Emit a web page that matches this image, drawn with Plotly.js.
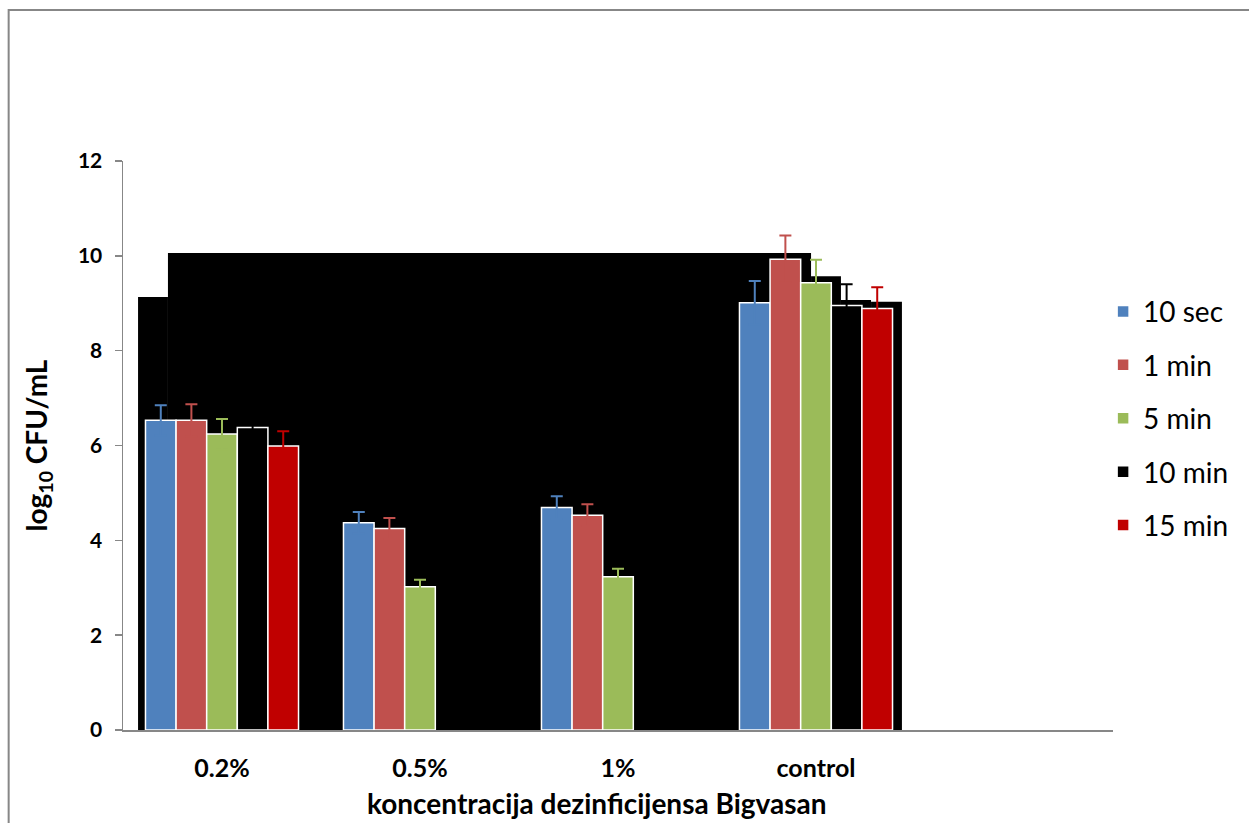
<!DOCTYPE html>
<html>
<head>
<meta charset="utf-8">
<script src="https://cdn.plot.ly/plotly-3.0.1.min.js"></script>
<style>html,body{margin:0;padding:0;background:#fff;}#chart{width:1249px;height:823px;}</style>
</head>
<body>
<div id="chart"></div>
<script>
// ---- data ----
const categories = ["0.2%", "0.5%", "1%", "control"];
const seriesNames = ["10 sec", "1 min", "5 min", "10 min", "15 min"];
const sec10 = [6.53, 4.37, 4.69, 9.01];
const min1 = [6.53, 4.25, 4.53, 9.93];
const min5 = [6.24, 3.02, 3.23, 9.43];
const min10 = [6.38, null, null, 8.95];
const min15 = [5.99, null, null, 8.89];
const err10sec = [0.32, 0.23, 0.24, 0.46];
const err1min = [0.34, 0.22, 0.23, 0.50];
const err5min = [0.32, 0.15, 0.17, 0.49];
const err10min = [0.30, 0, 0, 0.45];
const err15min = [0.31, 0, 0, 0.45];
const yTicks = [0, 2, 4, 6, 8, 10, 12];
const xTitle = "koncentracija dezinficijensa Bigvasan";
const yTitle = "log<sub>10</sub> CFU/mL";

const values = [sec10, min1, min5, min10, min15];
const errors = [err10sec, err1min, err5min, err10min, err15min];
const colors = ["#4F81BD", "#C0504D", "#9BBB59", "#000000", "#C00000"];

const traces = seriesNames.map((name, i) => ({
  type: "bar",
  name: name,
  x: categories,
  y: values[i],
  legendgroup: "g" + i,
  marker: { color: colors[i], line: { color: "#ffffff", width: 1.5 } },
  error_y: { type: "data", array: errors[i], visible: true, color: colors[i], thickness: 2, width: 6 },
  hoverinfo: "x+y+name"
}));

// black backdrop block seen behind the bars in the reference (rendering artefact)
const backdrop = [
  [-0.424, -0.273, 9.13],
  [-0.273, 2.975, 10.06],
  [2.975, 3.126, 9.57],
  [3.126, 3.278, 9.07],
  [3.278, 3.434, 9.03]
];
const shapes = backdrop.map(b => ({
  type: "rect", xref: "x", yref: "y", x0: b[0], x1: b[1], y0: 0, y1: b[2],
  fillcolor: "#000000", line: { width: 0 }, layer: "below"
}));
// outer frame
shapes.push({
  type: "rect", xref: "paper", yref: "paper",
  x0: -0.1155, x1: 1.2, y0: -0.2, y1: 1.2654,
  line: { color: "#878787", width: 2 }, fillcolor: "rgba(0,0,0,0)", layer: "above"
});

const FONT = "Lato, 'Open Sans', sans-serif";

const layout = {
  width: 1249, height: 823,
  margin: { l: 123, r: 136, t: 161, b: 93 },
  paper_bgcolor: "#ffffff", plot_bgcolor: "#ffffff",
  font: { family: FONT, color: "#000" },
  barmode: "group", bargap: 0.227, bargroupgap: 0,
  showlegend: true,
  legend: {
    x: 0.99, xanchor: "left", y: 0.779, yanchor: "top",
    font: { size: 28, family: FONT, color: "#000" },
    traceorder: "grouped", tracegroupgap: 14, bgcolor: "rgba(0,0,0,0)"
  },
  xaxis: {
    type: "category", range: [-0.5, 4.5],
    showline: true, linecolor: "#878787", linewidth: 2,
    ticks: "", showgrid: false, zeroline: false,
    tickfont: { size: 25, family: FONT, weight: "bold" },
    ticklabelstandoff: 15
  },
  yaxis: {
    range: [0, 12], tickvals: yTicks,
    showline: true, linecolor: "#878787", linewidth: 1.5,
    ticks: "outside", ticklen: 7, tickcolor: "#878787", tickwidth: 1.5,
    showgrid: false, zeroline: false,
    tickfont: { size: 21, family: FONT, weight: "bold" },
    ticklabelstandoff: 8,
    title: { text: "<b>" + yTitle + "</b>", font: { size: 28, family: FONT }, standoff: 22 }
  },
  annotations: [{
    text: "<b>" + xTitle + "</b>", xref: "paper", yref: "paper",
    x: 0.479, y: -0.128, xanchor: "center", yanchor: "middle",
    showarrow: false, font: { size: 28, family: FONT, color: "#000" }
  }],
  shapes: shapes
};

Plotly.newPlot("chart", traces, layout, { staticPlot: true, displayModeBar: false });
</script>
</body>
</html>
